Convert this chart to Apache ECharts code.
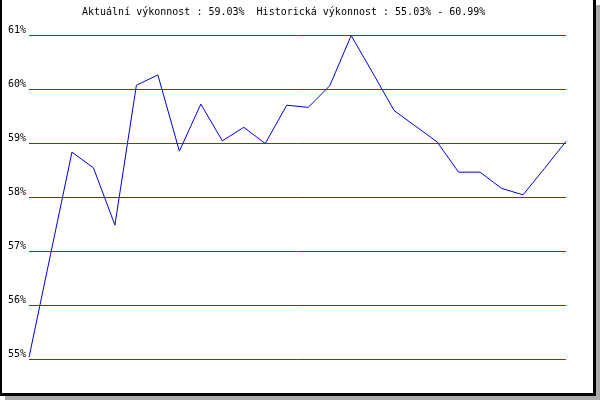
<!DOCTYPE html>
<html>
<head>
<meta charset="utf-8">
<script src="https://cdn.jsdelivr.net/npm/echarts@6/dist/echarts.min.js"></script>
<style>
html,body{margin:0;padding:0;background:#fff;}
#c{width:600px;height:400px;}
</style>
</head>
<body>
<div id="c"></div>
<script>
var categories = ['1','2','3','4','5','6','7','8','9','10','11','12','13','14','15','16','17','18','19','20','21','22','23','24','25','26'];
var values = [55.03, 56.93, 58.83, 58.54, 57.48, 60.07, 60.26, 58.85, 59.72, 59.04, 59.29, 58.99, 59.70, 59.66, 60.06, 60.99, 60.30, 59.60, 59.31, 59.02, 58.46, 58.46, 58.16, 58.04, 58.53, 59.03];
var yTicks = [55, 56, 57, 58, 59, 60, 61];
var titleText = 'Aktuální výkonnost : 59.03%  Historická výkonnost : 55.03% - 60.99%';

var chart = echarts.init(document.getElementById('c'), null, {renderer: 'canvas'});
chart.setOption({
  animation: false,
  backgroundColor: '#fff',
  title: {
    text: titleText,
    left: 82,
    top: 7,
    padding: 0,
    textStyle: {fontFamily: 'DejaVu Sans Mono', fontSize: 10, fontWeight: 'normal', color: '#000'}
  },
  graphic: [
    {type: 'rect', shape: {x: 596, y: 5, width: 4, height: 395}, style: {fill: '#aaaaaa'}, silent: true},
    {type: 'rect', shape: {x: 5, y: 396, width: 595, height: 4}, style: {fill: '#aaaaaa'}, silent: true},
    {type: 'rect', shape: {x: 0, y: 0, width: 2, height: 396}, style: {fill: '#000'}, silent: true},
    {type: 'rect', shape: {x: 593, y: 0, width: 3, height: 396}, style: {fill: '#000'}, silent: true},
    {type: 'rect', shape: {x: 0, y: 393, width: 596, height: 3}, style: {fill: '#000'}, silent: true}
  ],
  grid: {left: 29, right: 34, top: 35, bottom: 41, containLabel: false},
  xAxis: {
    type: 'category',
    data: categories,
    boundaryGap: false,
    show: false
  },
  yAxis: {
    type: 'value',
    min: yTicks[0],
    max: yTicks[yTicks.length - 1],
    interval: 1,
    axisLine: {show: false},
    axisTick: {show: false},
    splitLine: {show: true, lineStyle: {color: '#e00000', width: 1}},
    axisLabel: {
      formatter: '{value}%',
      fontFamily: 'DejaVu Sans Mono',
      fontSize: 10,
      color: '#000',
      margin: 3,
      verticalAlign: 'bottom',
      lineHeight: 10
    }
  },
  series: [{
    type: 'line',
    data: values,
    showSymbol: false,
    symbol: 'none',
    lineStyle: {color: '#0000dd', width: 1},
    itemStyle: {color: '#0000dd'}
  }]
});
</script>
</body>
</html>
